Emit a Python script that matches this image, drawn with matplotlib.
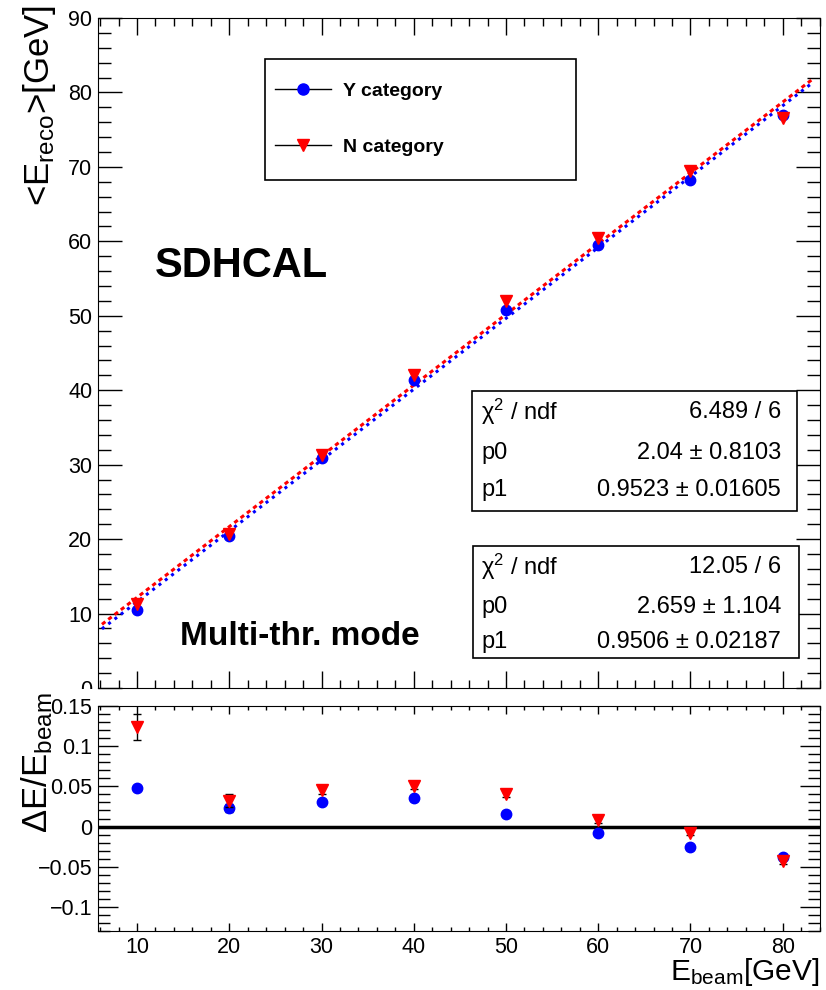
import matplotlib
matplotlib.use("Agg")
import matplotlib.pyplot as plt
from matplotlib.patches import Rectangle
from matplotlib.ticker import MultipleLocator, FuncFormatter
import numpy as np

plt.rcParams['font.family'] = ['Liberation Sans', 'DejaVu Sans']
plt.rcParams['mathtext.fontset'] = 'custom'
plt.rcParams['mathtext.rm'] = 'Liberation Sans'
plt.rcParams['mathtext.it'] = 'Liberation Sans:italic'
plt.rcParams['mathtext.bf'] = 'Liberation Sans:bold'

# beam energies and mean reconstructed energies
e_beam = [10, 20, 30, 40, 50, 60, 70, 80]
reco_y = [10.48, 20.46, 30.93, 41.40, 50.80, 59.52, 68.22, 76.96]
reco_n = [11.24, 20.64, 31.36, 42.04, 51.98, 60.50, 69.44, 76.56]

# relative deviation (E_reco - E_beam) / E_beam
res_y = [0.048, 0.023, 0.031, 0.035, 0.016, -0.008, -0.026, -0.038]
res_n = [0.124, 0.032, 0.045, 0.051, 0.040, 0.008, -0.008, -0.043]
err_y = [0.003, 0.005, 0.003, 0.003, 0.003, 0.003, 0.003, 0.004]
err_n = [0.016, 0.008, 0.004, 0.004, 0.003, 0.003, 0.003, 0.003]

# linear fits p0 + p1*x
fit_y = (2.04, 0.9523)
fit_n = (2.659, 0.9506)
fit_range = (6.2, 83.3)
stats_y = [("χ$^2$ / ndf", "6.489 / 6"), ("p0", "2.04 ± 0.8103"), ("p1", "0.9523 ± 0.01605")]
stats_n = [("χ$^2$ / ndf", "12.05 / 6"), ("p0", "2.659 ± 1.104"), ("p1", "0.9506 ± 0.02187")]

W, H = 826, 990


def fx(px):
    return px / W


def fy(py):
    return 1 - py / H


fig = plt.figure(figsize=(W / 100, H / 100), dpi=100)
ax = fig.add_axes([fx(98), fy(688), fx(820) - fx(98), fy(18) - fy(688)])
axr = fig.add_axes([fx(98), fy(931), fx(820) - fx(98), fy(706) - fy(931)])

xlim = (5.77, 84.04)

# ---- top panel
xf = np.linspace(*fit_range, 100)
ax.plot(xf, fit_y[0] + fit_y[1] * xf, color='blue', lw=2.2, ls=(0, (1, 1.6)))
ax.plot(xf, fit_n[0] + fit_n[1] * xf, color='red', lw=2.2, ls=(0, (1.4, 1.2)))
ax.plot(e_beam, reco_y, 'o', color='blue', ms=7.5, zorder=3)
ax.plot(e_beam, reco_n, 'v', color='red', ms=8.5, zorder=4)

ax.set_xlim(*xlim)
ax.set_ylim(0, 90)
ax.xaxis.set_major_locator(MultipleLocator(10))
ax.xaxis.set_minor_locator(MultipleLocator(2))
ax.yaxis.set_major_locator(MultipleLocator(10))
ax.yaxis.set_minor_locator(MultipleLocator(2))
ax.tick_params(which='both', direction='in', top=True, right=True, width=1,
               labelsize=15.5, pad=4, labelbottom=False)
ax.tick_params(axis='x', which='major', length=12)
ax.tick_params(axis='x', which='minor', length=6)
ax.tick_params(axis='y', which='major', length=17.5)
ax.tick_params(axis='y', which='minor', length=9.5)

# legend (ROOT style fixed box)
h1, = ax.plot([], [], '-o', color='black', lw=1, mfc='blue', mec='blue', ms=8)
h2, = ax.plot([], [], '-v', color='black', lw=1, mfc='red', mec='red', ms=9)
leg = ax.legend([h1, h2], ["Y category", "N category"], loc='center left',
                bbox_to_anchor=(fx(275), fy(119)), bbox_transform=fig.transFigure,
                frameon=False, borderpad=0, borderaxespad=0, handlelength=2.88,
                handletextpad=0.62, labelspacing=1.95, prop={'weight': 'bold', 'size': 14})
fig.add_artist(Rectangle((fx(265), fy(180)), fx(576) - fx(265), fy(59) - fy(180),
                         transform=fig.transFigure, fill=False, edgecolor='black', lw=1.2))

fig.text(fx(155), fy(277), "SDHCAL", fontsize=30, fontweight='bold', va='baseline')
fig.text(fx(180), fy(645), "Multi-thr. mode", fontsize=24, fontweight='bold', va='baseline')

# fit statistics boxes
for (box, rows, ys) in [((472, 391, 797, 511), stats_y, (411.7, 453.3, 490)),
                        ((473, 546, 799, 658), stats_n, (566.7, 606.7, 641.7))]:
    x0, y0, x1, y1 = box
    fig.add_artist(Rectangle((fx(x0), fy(y1)), fx(x1) - fx(x0), fy(y0) - fy(y1),
                             transform=fig.transFigure, facecolor='white',
                             edgecolor='black', lw=1.2, zorder=5))
    for (name, val), yy in zip(rows, ys):
        fig.text(fx(481), fy(yy), name, fontsize=17, va='center', ha='left', zorder=6)
        fig.text(fx(781), fy(yy), val, fontsize=17, va='center', ha='right', zorder=6)

# ---- bottom panel (ratio)
axr.axhline(0, color='black', lw=2.5, zorder=1)
axr.errorbar(e_beam, res_y, yerr=err_y, fmt='o', color='blue', ms=7.5,
             ecolor='black', elinewidth=1, capsize=3, zorder=3)
axr.errorbar(e_beam, res_n, yerr=err_n, fmt='v', color='red', ms=8.5,
             ecolor='black', elinewidth=1, capsize=3, zorder=4)
axr.set_xlim(*xlim)
axr.set_ylim(-0.13, 0.15)
axr.xaxis.set_major_locator(MultipleLocator(10))
axr.xaxis.set_minor_locator(MultipleLocator(2))
axr.yaxis.set_major_locator(MultipleLocator(0.05))
axr.yaxis.set_minor_locator(MultipleLocator(0.01))
axr.yaxis.set_major_formatter(FuncFormatter(lambda v, p: f"{round(v, 3):g}".replace('-', '\u2212')))
axr.tick_params(which='both', direction='in', top=True, right=True, width=1,
                labelsize=15.5, pad=4)
axr.tick_params(axis='x', which='major', length=5.5)
axr.tick_params(axis='x', which='minor', length=3)
axr.tick_params(axis='y', which='major', length=14.5)
axr.tick_params(axis='y', which='minor', length=8.5)

# hide lower half of the top panel's "0" label like the ROOT pad does
fig.add_artist(Rectangle((fx(50), fy(698)), fx(96) - fx(50), fy(688.5) - fy(698),
                         transform=fig.transFigure, facecolor='white', edgecolor='none', zorder=1))

# axis titles
fig.text(fx(40), fy(5), "<E$_{\\mathrm{reco}}$>[GeV]", rotation=90, ha='center', va='top', fontsize=25)
fig.text(fx(37), fy(692), "ΔE/E$_{\\mathrm{beam}}$", rotation=90, ha='center', va='top', fontsize=25)
fig.text(fx(820), fy(980), "E$_{\\mathrm{beam}}$[GeV]", ha='right', va='baseline', fontsize=21.5)

fig.savefig("out.png", dpi=100)
